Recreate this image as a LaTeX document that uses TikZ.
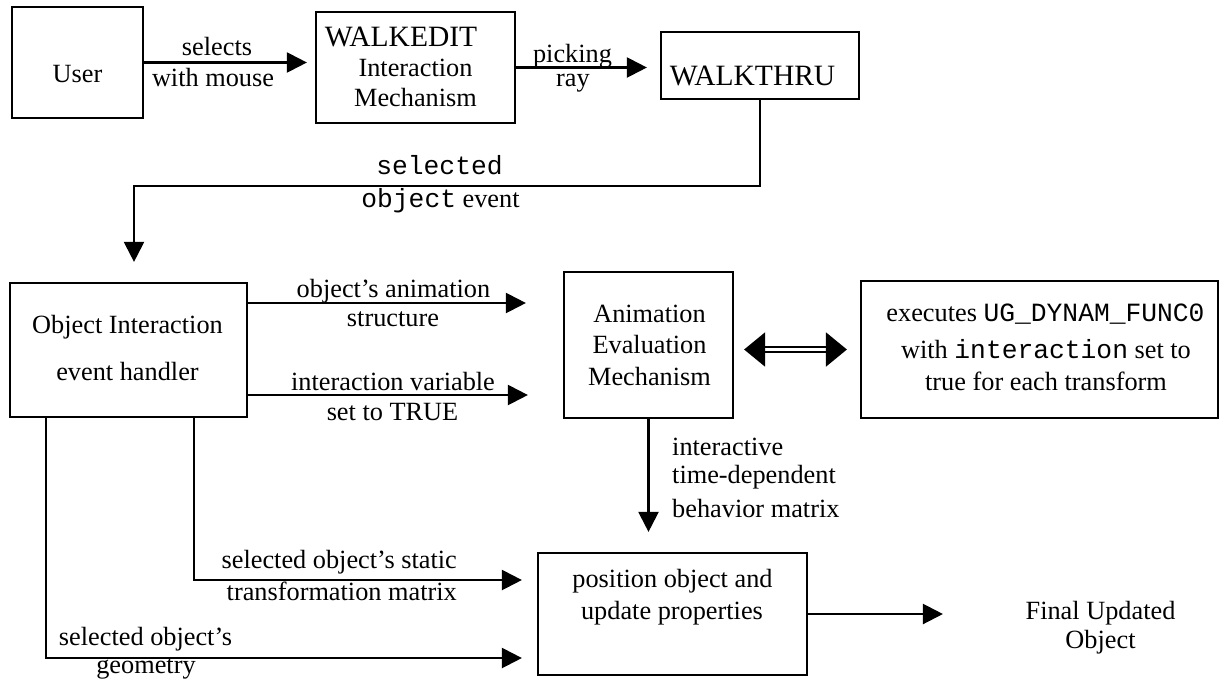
\documentclass[tikz,border=0pt]{standalone}
\usepackage{fontspec}
\setmainfont{Liberation Serif}
\setmonofont{Liberation Mono}
\usetikzlibrary{arrows.meta}

\tikzset{
  box/.style={draw, line width=2.2pt, rectangle, inner sep=0pt},
  txt/.style={inner sep=0pt, anchor=base, font=\fontsize{26.3pt}{30pt}\selectfont},
  captxt/.style={txt, font=\fontsize{29.5pt}{32pt}\selectfont},
  arr/.style={line width=2.2pt, -{Triangle[length=20pt,width=20pt]}},
  dbl/.style={double, double distance=3.4pt, line width=2pt,
    {Triangle[length=21pt,width=34pt]}-{Triangle[length=21pt,width=34pt]}}
}

\begin{document}
\begin{tikzpicture}[x=1pt,y=-1pt]
\useasboundingbox (0,0) rectangle (1222,681);

% boxes
\node[box, minimum width=131pt, minimum height=111pt] (user) at (77.5,62.5) {};
\node[box, minimum width=199pt, minimum height=111pt] (walkedit) at (415.5,67.5) {};
\node[box, minimum width=198pt, minimum height=67pt] (walkthru) at (760,65.5) {};
\node[box, minimum width=237pt, minimum height=134pt] (oih) at (128.5,350) {};
\node[box, minimum width=169pt, minimum height=146pt] (anim) at (648.5,345) {};
\node[box, minimum width=357pt, minimum height=137pt] (exec) at (1039.5,349.5) {};
\node[box, minimum width=269pt, minimum height=122pt] (pos) at (672.5,614) {};

% box texts
\node[txt] (userT) at (77.5,82) {User};
\node[captxt] (weA) at (401,46) {WALKEDIT};
\node[txt] (weB) at (415.5,76) {Interaction};
\node[txt] (weC) at (415.5,106) {Mechanism};
\node[captxt] (wtT) at (752.5,85) {WALKTHRU};
\node[txt] (oiA) at (127.5,333) {Object Interaction};
\node[txt] (oiB) at (127.5,380) {event handler};
\node[txt] (anA) at (649.5,322) {Animation};
\node[txt] (anB) at (649.5,353) {Evaluation};
\node[txt] (anC) at (649.5,385) {Mechanism};
\node[txt] (exA) at (1045.5,321) {executes \texttt{UG\_DYNAM\_FUNC0}};
\node[txt] (exB) at (1046,358) {with \texttt{interaction} set to};
\node[txt] (exC) at (1046,390) {true for each transform};
\node[txt] (poA) at (672.5,587) {position object and};
\node[txt] (poB) at (672,619) {update properties};
\node[txt] (fuA) at (1100.5,619) {Final Updated};
\node[txt] (fuB) at (1100.5,648.5) {Object};

% connector labels
\node[txt] (selA) at (217,55) {selects};
\node[txt] (selB) at (213,86) {with mouse};
\node[txt] (pkA) at (572.5,62) {picking};
\node[txt] (pkB) at (573,86) {ray};
\node[txt] (evA) at (439.5,174.5) {\ttfamily selected};
\node[txt] (evB) at (440.5,207) {{\ttfamily object} event};
\node[txt] (asA) at (393.5,297) {object's animation};
\node[txt] (asB) at (393,326) {structure};
\node[txt] (ivA) at (393,390) {interaction variable};
\node[txt] (ivB) at (392.5,420.5) {set to TRUE};
\node[txt, anchor=base west] (tdA) at (672,455) {interactive};
\node[txt, anchor=base west] (tdB) at (672,483) {time-dependent};
\node[txt, anchor=base west] (tdC) at (672,517) {behavior matrix};
\node[txt, anchor=base east] (stA) at (457,568) {selected object's static};
\node[txt, anchor=base east] (stB) at (457,600) {transformation matrix};
\node[txt] (geA) at (145.5,645) {selected object's};
\node[txt] (geB) at (146,673) {geometry};

% connectors
\coordinate (turnA) at (134,186);
\draw[arr, shorten >=8pt] (user.east) -- (user.east -| walkedit.west);
\draw[arr, shorten >=13pt] (walkedit.east) -- (walkedit.east -| walkthru.west);
\draw[arr, shorten >=20pt] (walkthru.south) |- (turnA) -- (turnA |- oih.north);
\draw[arr, shorten >=37pt] ([yshift=47pt]oih.east) -- ([yshift=47pt]oih.east -| anim.west);
\draw[arr, shorten >=35pt] ([yshift=-45pt]oih.east) -- ([yshift=-45pt]oih.east -| anim.west);
\draw[dbl, shorten <=10pt, shorten >=13pt] (anim.east |- exec.west) -- (exec.west);
\draw[arr, shorten >=20pt] (anim.south) -- (anim.south |- pos.north);
\draw[arr, shorten >=15pt] ([xshift=65.5pt]oih.south) |- ([yshift=34pt]pos.west);
\draw[arr, shorten >=15pt] ([xshift=-82.5pt]oih.south) |- ([yshift=-44pt]pos.west);
\draw[arr, shorten >=82.5pt] (pos.east) -- (pos.east -| fuA.west);
\end{tikzpicture}
\end{document}
